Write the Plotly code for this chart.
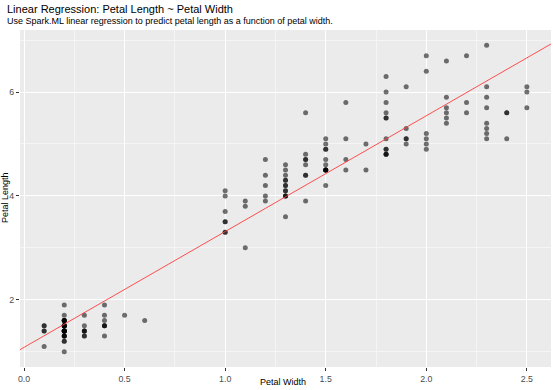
import numpy as np
import plotly.graph_objects as go

petal_width = [
    0.2,0.2,0.2,0.2,0.2,0.4,0.3,0.2,0.2,0.1,0.2,0.2,0.1,0.1,0.2,0.4,0.4,0.3,0.3,0.3,
    0.2,0.4,0.2,0.5,0.2,0.2,0.4,0.2,0.2,0.2,0.2,0.4,0.1,0.2,0.2,0.2,0.2,0.1,0.2,0.2,
    0.3,0.3,0.2,0.6,0.4,0.3,0.2,0.2,0.2,0.2,
    1.4,1.5,1.5,1.3,1.5,1.3,1.6,1.0,1.3,1.4,1.0,1.5,1.0,1.4,1.3,1.4,1.5,1.0,1.5,1.1,
    1.8,1.3,1.5,1.2,1.3,1.4,1.4,1.7,1.5,1.0,1.1,1.0,1.2,1.6,1.5,1.6,1.5,1.3,1.3,1.3,
    1.2,1.4,1.2,1.0,1.3,1.2,1.3,1.3,1.1,1.3,
    2.5,1.9,2.1,1.8,2.2,2.1,1.7,1.8,1.8,2.5,2.0,1.9,2.1,2.0,2.4,2.3,1.8,2.2,2.3,1.5,
    2.3,2.0,2.0,1.8,2.1,1.8,1.8,1.8,2.1,1.6,1.9,2.0,2.2,1.5,1.4,2.3,2.4,1.8,1.8,2.1,
    2.4,2.3,1.9,2.3,2.5,2.3,1.9,2.0,2.3,1.8,
]
petal_length = [
    1.4,1.4,1.3,1.5,1.4,1.7,1.4,1.5,1.4,1.5,1.5,1.6,1.4,1.1,1.2,1.5,1.3,1.4,1.7,1.5,
    1.7,1.5,1.0,1.7,1.9,1.6,1.6,1.5,1.4,1.6,1.6,1.5,1.5,1.4,1.5,1.2,1.3,1.4,1.3,1.5,
    1.3,1.3,1.3,1.6,1.9,1.4,1.6,1.4,1.5,1.4,
    4.7,4.5,4.9,4.0,4.6,4.5,4.7,3.3,4.6,3.9,3.5,4.2,4.0,4.7,3.6,4.4,4.5,4.1,4.5,3.9,
    4.8,4.0,4.9,4.7,4.3,4.4,4.8,5.0,4.5,3.5,3.8,3.7,3.9,5.1,4.5,4.5,4.7,4.4,4.1,4.0,
    4.4,4.6,4.0,3.3,4.2,4.2,4.2,4.3,3.0,4.1,
    6.0,5.1,5.9,5.6,5.8,6.6,4.5,6.3,5.8,6.1,5.1,5.3,5.5,5.0,5.1,5.3,5.5,6.7,6.9,5.0,
    5.7,4.9,6.7,4.9,5.7,6.0,4.8,4.9,5.6,5.8,6.1,6.4,5.6,5.1,5.6,6.1,5.6,5.5,4.8,5.4,
    5.6,5.1,5.1,5.9,5.7,5.2,5.0,5.2,5.4,5.1,
]
x_ticks = [0.0, 0.5, 1.0, 1.5, 2.0, 2.5]
x_tick_labels = ["0.0", "0.5", "1.0", "1.5", "2.0", "2.5"]
y_ticks = [2, 4, 6]
y_tick_labels = ["2", "4", "6"]

slope, intercept = np.polyfit(petal_width, petal_length, 1)

xmin, xmax = min(petal_width), max(petal_width)
ymin, ymax = min(petal_length), max(petal_length)
xr = [xmin - 0.05 * (xmax - xmin), xmax + 0.05 * (xmax - xmin)]
yr = [ymin - 0.05 * (ymax - ymin), ymax + 0.05 * (ymax - ymin)]

W, H = 553, 390
ML, MR, MT, MB = 20, 2, 30, 23
PW, PH = W - ML - MR, H - MT - MB
FONT = "Liberation Sans, Arial"

def px_x(px):
    return (px - ML) / PW

def px_y(py):
    return 1 - (py - MT) / PH

fig = go.Figure()
fig.add_trace(go.Scatter(
    x=petal_width, y=petal_length, mode="markers",
    marker=dict(size=5, color="rgba(0,0,0,0.55)", line=dict(width=0)),
    hoverinfo="x+y", showlegend=False,
))
lx = np.array(xr)
fig.add_trace(go.Scatter(
    x=lx, y=intercept + slope * lx, mode="lines",
    line=dict(color="rgb(255,60,60)", width=0.9), showlegend=False,
))

axis_common = dict(
    showline=False, zeroline=False, automargin=False,
    gridcolor="white", gridwidth=1.1,
    ticks="outside", ticklen=3, tickcolor="#333333", tickwidth=1,
    tickfont=dict(family=FONT, size=8.8, color="#4D4D4D"),
)
fig.update_xaxes(
    range=xr, tickvals=x_ticks, ticktext=x_tick_labels,
    minor=dict(tickvals=[0.25, 0.75, 1.25, 1.75, 2.25], showgrid=True,
               gridcolor="#F5F5F5", gridwidth=0.6, ticks=""),
    **axis_common,
)
fig.update_yaxes(
    range=yr, tickvals=y_ticks, ticktext=y_tick_labels,
    minor=dict(tickvals=[1, 3, 5, 7], showgrid=True,
               gridcolor="#F5F5F5", gridwidth=0.6, ticks=""),
    **axis_common,
)

fig.update_layout(
    width=W, height=H,
    margin=dict(l=ML, r=MR, t=MT, b=MB),
    paper_bgcolor="white", plot_bgcolor="#EBEBEB",
    annotations=[
        dict(text="Linear Regression: Petal Length ~ Petal Width", xref="paper", yref="paper",
             x=px_x(5), y=px_y(9), xanchor="left", yanchor="middle",
             showarrow=False, font=dict(family=FONT, size=11, color="black")),
        dict(text="Use Spark.ML linear regression to predict petal length as a function of petal width.",
             xref="paper", yref="paper",
             x=px_x(5), y=px_y(21), xanchor="left", yanchor="middle",
             showarrow=False, font=dict(family=FONT, size=9, color="black")),
        dict(text="Petal Width", xref="paper", yref="paper",
             x=px_x(283), y=px_y(382), xanchor="center", yanchor="middle",
             showarrow=False, font=dict(family=FONT, size=9, color="black")),
        dict(text="Petal Length", xref="paper", yref="paper", textangle=-90,
             x=px_x(5), y=px_y(198), xanchor="center", yanchor="middle",
             showarrow=False, font=dict(family=FONT, size=9, color="black")),
    ],
)

fig.write_html("out.html", config={"displayModeBar": False},
               post_script="document.body.style.margin='0';document.body.style.overflow='hidden';")
